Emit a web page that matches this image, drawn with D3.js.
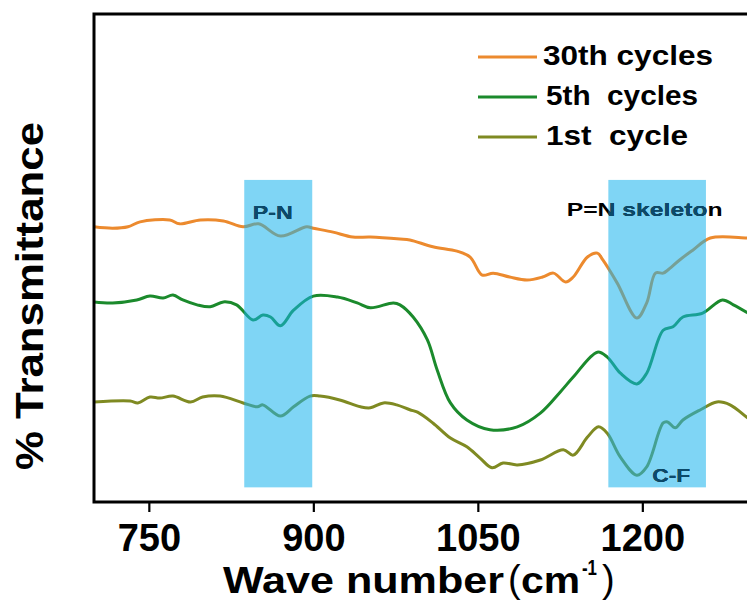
<!DOCTYPE html>
<html>
<head>
<meta charset="utf-8">
<script src="https://cdn.jsdelivr.net/npm/d3@7"></script>
<style>
  html, body { margin: 0; padding: 0; background: #fff; }
  svg { display: block; font-family: "Liberation Sans", Arial, sans-serif; }
</style>
</head>
<body>
<svg id="chart" width="747" height="604"></svg>
<script>
// ---------- data (wavenumber in cm-1, transmittance in arbitrary offset units) ----------
const seriesNames = ["30th cycles", "5th  cycles", "1st  cycle"];
const seriesColors = ["#ec8a2e", "#1b8a2c", "#7f8a22"];

const wave30 = [700,717,731,742,769,778,797,818,836,850,870,894,900,918,936,952,979,988,1009,1031,1043,1054,1064,1079,1095,1109,1119,1130,1137,1150,1159,1164,1177,1195,1204,1212,1219,1223,1234,1246,1262,1295,1300];
const trans30 = [56.4,56.1,56.4,57.4,57.8,57.0,57.8,57.6,56.4,57.0,54.5,56.4,56.1,55.3,54.3,54.3,53.9,53.7,52.3,51.4,50.2,46.5,46.9,46.1,45.5,46.1,46.9,45.1,46.1,50.2,51.0,49.6,44.9,37.7,40.8,46.9,46.9,47.5,49.6,51.6,54.1,54.1,54.1];

const wave5 = [700,717,739,751,763,772,781,794,806,818,830,845,854,861,870,882,900,922,940,952,973,979,991,1004,1013,1025,1040,1061,1086,1107,1125,1137,1159,1168,1180,1195,1204,1219,1228,1237,1255,1273,1283,1295,1300];
const trans5 = [41.0,40.8,41.4,42.2,41.8,42.4,41.4,40.4,40.0,41.0,40.4,37.3,38.3,37.9,36.1,39.3,42.2,42.0,40.8,39.8,40.8,40.4,37.9,33.2,27.0,20.3,16.8,14.8,15.4,18.2,22.5,25.6,30.7,29.7,26.4,24.2,26.4,35.2,35.9,37.9,38.7,41.4,40.4,38.9,38.2];

const wave1 = [700,733,740,751,760,772,788,799,815,836,849,854,870,882,897,906,924,943,952,964,976,988,995,1009,1025,1040,1052,1063,1073,1086,1107,1128,1137,1150,1160,1168,1180,1195,1204,1219,1223,1230,1237,1253,1268,1280,1295,1300];
const trans1 = [20.5,20.7,20.3,21.5,21.3,21.7,20.5,21.5,21.7,20.3,19.5,19.9,17.6,19.5,21.7,21.7,20.9,19.5,19.3,20.3,19.9,18.9,18.4,16.2,13.1,11.3,9.0,7.0,8.0,7.6,8.6,10.7,9.6,13.3,15.4,14.1,9.2,5.5,7.2,16.2,16.4,15.2,16.8,18.9,20.5,19.9,17.4,16.6];

const xTicks = [750, 900, 1050, 1200];
const bandFrom = [837, 1169];
const bandTo = [899, 1258];
const bandLow = 3, bandHigh = 66;
const bandLabels = ["P-N", "P=N skeleton", "C-F"];
const bandLabelX = [863, 1131, 1209];
const bandLabelY = [58.0, 58.6, 4.1];
const bandLabelAnchor = ["middle", "start", "start"];
const bandLabelWidth = [40, 156, 38];

// ---------- layout ----------
const svg = d3.select("#chart");
const L = 94, T = 14, R = 752, B = 502;
const x = d3.scaleLinear().domain([700, 1300]).range([L, R]);
const y = d3.scaleLinear().domain([0, 100]).range([B, T]);

const defs = svg.append("defs");
defs.append("clipPath").attr("id", "plotClip")
  .append("rect").attr("x", L).attr("y", T).attr("width", R - L).attr("height", B - T);
const bandClip = defs.append("clipPath").attr("id", "bandClip");
bandFrom.forEach((f, i) => {
  bandClip.append("rect")
    .attr("x", x(f)).attr("y", y(bandHigh))
    .attr("width", x(bandTo[i]) - x(f)).attr("height", y(bandLow) - y(bandHigh));
});

const series = [
  { name: seriesNames[0], color: seriesColors[0], pts: wave30.map((w, i) => [w, trans30[i]]) },
  { name: seriesNames[1], color: seriesColors[1], pts: wave5.map((w, i) => [w, trans5[i]]) },
  { name: seriesNames[2], color: seriesColors[2], pts: wave1.map((w, i) => [w, trans1[i]]) }
];

const line = d3.line()
  .x(d => x(d[0])).y(d => y(d[1]))
  .curve(d3.curveCatmullRom.alpha(0.5));

const plot = svg.append("g").attr("clip-path", "url(#plotClip)");
plot.selectAll("path.series")
  .data(series).enter().append("path")
  .attr("class", "series")
  .attr("d", d => line(d.pts))
  .attr("fill", "none")
  .attr("stroke", d => d.color)
  .attr("stroke-width", 3)
  .attr("stroke-linejoin", "round");

// bands (translucent, drawn over curves)
plot.selectAll("rect.band")
  .data(bandFrom).enter().append("rect")
  .attr("class", "band")
  .attr("x", d => x(d))
  .attr("y", y(bandHigh))
  .attr("width", (d, i) => x(bandTo[i]) - x(d))
  .attr("height", y(bandLow) - y(bandHigh))
  .attr("fill", "rgb(22,178,236)")
  .attr("fill-opacity", 0.55);

// band labels: black, then dark teal where inside the bands
function drawBandLabels(g, color) {
  g.selectAll("text").data(bandLabels).enter().append("text")
    .attr("x", (d, i) => x(bandLabelX[i]))
    .attr("y", (d, i) => y(bandLabelY[i]))
    .attr("text-anchor", (d, i) => bandLabelAnchor[i])
    .attr("font-weight", "bold")
    .attr("font-size", 19)
    .attr("textLength", (d, i) => bandLabelWidth[i])
    .attr("lengthAdjust", "spacingAndGlyphs")
    .attr("fill", color)
    .text(d => d);
}
drawBandLabels(svg.append("g"), "#000");
drawBandLabels(svg.append("g").attr("clip-path", "url(#bandClip)"), "#0b4a6a");

// axes frame
const xAxis = d3.axisBottom(x).tickValues(xTicks).tickSize(10).tickPadding(4).tickFormat(d3.format("d"));
const gx = svg.append("g").attr("transform", `translate(0,${B})`).call(xAxis);
gx.select(".domain").remove();
gx.selectAll(".tick line").attr("stroke", "#000").attr("stroke-width", 2.2);
gx.selectAll(".tick text")
  .attr("fill", "#000")
  .attr("font-size", 38)
  .attr("font-weight", "bold")
  .attr("font-family", "'Liberation Sans', Arial, sans-serif")
  .attr("dy", null)
  .attr("y", 49);

svg.append("path")
  .attr("d", `M${R},${T}H${L}V${B}H${R}`)
  .attr("fill", "none")
  .attr("stroke", "#000")
  .attr("stroke-width", 3)
  .attr("stroke-linecap", "square");

// axis titles
svg.append("text")
  .attr("transform", "translate(43,296) rotate(-90)")
  .attr("text-anchor", "middle")
  .attr("font-size", 38).attr("font-weight", "bold")
  .attr("textLength", 348).attr("lengthAdjust", "spacingAndGlyphs")
  .text("% Transmittance");

const xt = svg.append("g").attr("font-weight", "bold");
xt.append("text").attr("x", 223).attr("y", 593).attr("font-size", 37)
  .attr("textLength", 281).attr("lengthAdjust", "spacingAndGlyphs").text("Wave number");
xt.append("text").attr("x", 508).attr("y", 592).attr("font-size", 38).attr("font-weight", "normal").text("(");
xt.append("text").attr("x", 521).attr("y", 593).attr("font-size", 37)
  .attr("textLength", 59).attr("lengthAdjust", "spacingAndGlyphs").text("cm");
xt.append("text").attr("x", 582).attr("y", 575).attr("font-size", 22)
  .attr("textLength", 15).attr("lengthAdjust", "spacingAndGlyphs").text("-1");
xt.append("text").attr("x", 602).attr("y", 592).attr("font-size", 38).attr("font-weight", "normal").text(")");

// legend
const legendY = [57, 97, 137];
const legendTextX = [543, 546, 546];
const legendTextW = [170, 152, 142];
const lg = svg.append("g");
series.forEach((s, i) => {
  lg.append("line")
    .attr("x1", 478).attr("x2", 537)
    .attr("y1", legendY[i]).attr("y2", legendY[i])
    .attr("stroke", s.color).attr("stroke-width", 3);
  lg.append("text")
    .attr("x", legendTextX[i]).attr("y", legendY[i] + 8)
    .attr("font-size", 28).attr("font-weight", "bold")
    .style("white-space", "pre")
    .attr("textLength", legendTextW[i]).attr("lengthAdjust", "spacingAndGlyphs")
    .text(s.name);
});
</script>
</body>
</html>
